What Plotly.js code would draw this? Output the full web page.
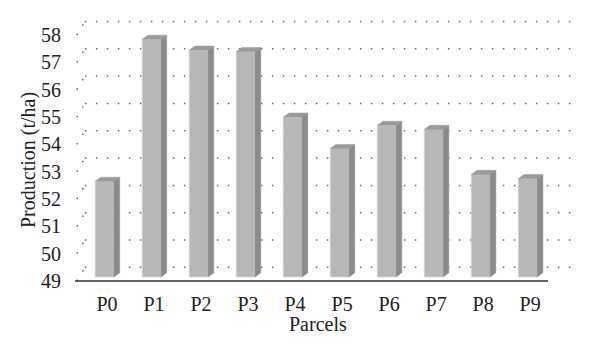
<!DOCTYPE html>
<html>
<head>
<meta charset="utf-8">
<script src="https://cdn.plot.ly/plotly-3.0.1.min.js"></script>
<style>html,body{margin:0;padding:0;background:#fff;}#chart{width:600px;height:351px;}</style>
</head>
<body>
<div id="chart"></div>
<script>
var categories = ["P0","P1","P2","P3","P4","P5","P6","P7","P8","P9"];
var production = [52.65, 57.85, 57.45, 57.4, 55.0, 53.85, 54.7, 54.55, 52.9, 52.75];
var yTicks = [49, 50, 51, 52, 53, 54, 55, 56, 57, 58];

var base = 49.15;      // floor of the 3D front plane
var w = 0.40;          // front face width (category units)
var dx = 0.12;         // depth offset in x
var dy = 0.15;         // depth offset in y
var shift = -0.05;     // front face centre offset
var xs = categories.map(function(_, i){ return i + shift; });

var sideX = [], sideY = [], topX = [], topY = [];
production.forEach(function(v, i){
  var r = xs[i] + w/2, l = xs[i] - w/2;
  sideX.push(r, r+dx, r+dx, r, r, null);
  sideY.push(base, base+dy, v+dy, v, base, null);
  topX.push(l, r, r+dx, l+dx, l, null);
  topY.push(v, v, v+dy, v+dy, v, null);
});

var traces = [
  {type:'bar', x: xs, y: production.map(function(v){return v-base;}), base: base,
   width: w, marker:{color:'#b7b7b7', line:{color:'#d2d2d2', width:1}}, hoverinfo:'skip', showlegend:false},
  {type:'scatter', mode:'lines', x: sideX, y: sideY, fill:'toself', fillcolor:'#8b8b8b',
   line:{color:'#8b8b8b', width:0.5}, hoverinfo:'skip', showlegend:false},
  {type:'scatter', mode:'lines', x: topX, y: topY, fill:'toself', fillcolor:'#9a9a9a',
   line:{color:'#9a9a9a', width:0.5}, hoverinfo:'skip', showlegend:false}
];

var xLeft = -0.68, xRight = 10.23;
var gridOff = 0.5, wallX0 = -0.64, wallX1 = -0.47, gridEnd = 10.0;
var shapes = [];
yTicks.forEach(function(t){
  shapes.push({type:'line', layer:'below', xref:'x', yref:'y', x0: wallX1, x1: gridEnd, y0: t+gridOff, y1: t+gridOff,
    line:{color:'#6a6a6a', width:1.5, dash:'1.5px,9.5px'}});
  shapes.push({type:'line', layer:'below', xref:'x', yref:'y', x0: wallX0, x1: wallX1, y0: t, y1: t+gridOff,
    line:{color:'#6a6a6a', width:1.5, dash:'1.5px,9.5px'}});
});
shapes.push({type:'line', xref:'x', yref:'paper', x0: xLeft, x1: 9.38, y0: 0, y1: 0,
  line:{color:'#333333', width:1.6}});

var font = {family:'"Liberation Serif", "Times New Roman", serif', size:20, color:'#222'};

var layout = {
  width:600, height:351,
  margin:{l:75, r:12, t:10, b:70},
  paper_bgcolor:'#fff', plot_bgcolor:'#fff',
  font: font,
  bargap: 0,
  xaxis:{range:[xLeft, xRight], tickvals: categories.map(function(_, i){return i;}), ticktext: categories,
    showgrid:false, zeroline:false, showline:false, ticks:'outside', ticklen:5, tickcolor:'rgba(0,0,0,0)',
    tickfont: font, fixedrange:true},
  yaxis:{range:[49, 58.92], tickvals: yTicks, ticktext: yTicks.map(String), showgrid:false, zeroline:false,
    showline:false, ticks:'outside', ticklen:9, tickcolor:'rgba(0,0,0,0)', tickfont: font, fixedrange:true},
  shapes: shapes,
  annotations:[
    {text:'Parcels', xref:'paper', yref:'paper', x:(318-75)/513, y:-(324-281)/271, showarrow:false,
     xanchor:'center', yanchor:'middle', font: font},
    {text:'Production (t/ha)', xref:'paper', yref:'paper', x:-(75-28)/513, y:(281-160)/271, showarrow:false,
     textangle:-90, xanchor:'center', yanchor:'middle', font: font}
  ]
};

Plotly.newPlot('chart', traces, layout, {staticPlot:true, displayModeBar:false});
</script>
</body>
</html>
